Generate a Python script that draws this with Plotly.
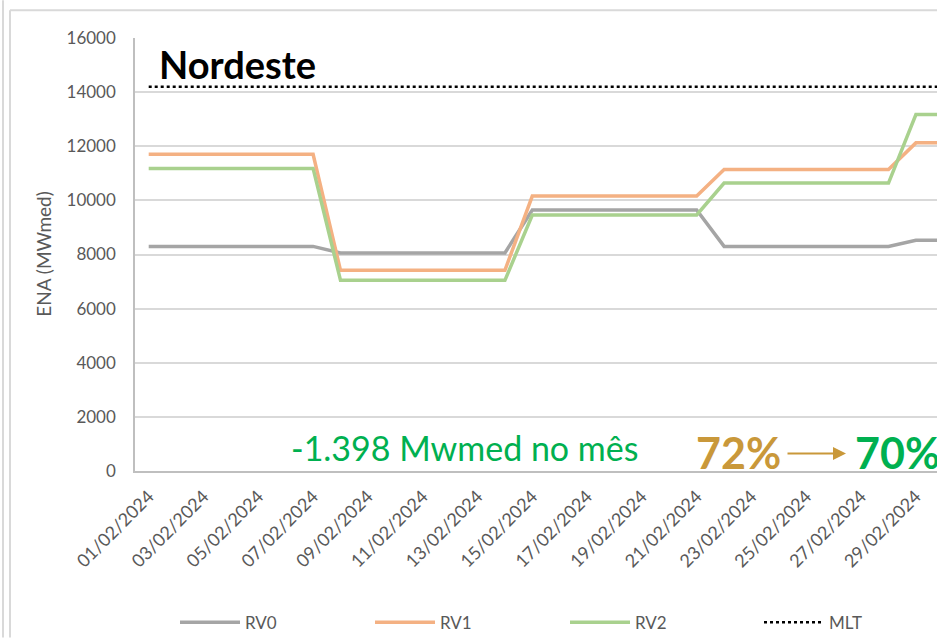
import plotly.graph_objects as go

dates = ["01/02/2024","02/02/2024","03/02/2024","04/02/2024","05/02/2024","06/02/2024","07/02/2024",
         "08/02/2024","09/02/2024","10/02/2024","11/02/2024","12/02/2024","13/02/2024","14/02/2024",
         "15/02/2024","16/02/2024","17/02/2024","18/02/2024","19/02/2024","20/02/2024","21/02/2024",
         "22/02/2024","23/02/2024","24/02/2024","25/02/2024","26/02/2024","27/02/2024","28/02/2024",
         "29/02/2024","01/03/2024"]

rv0 = [8300]*7 + [8060]*7 + [9645]*7 + [8300]*7 + [8525, 8525]
rv1 = [11700]*7 + [7415]*7 + [10160]*7 + [11145]*7 + [12125, 12125]
rv2 = [11180]*7 + [7045]*7 + [9460]*7 + [10640]*7 + [13170, 13170]
mlt = [14200]*30

y_ticks = [0, 2000, 4000, 6000, 8000, 10000, 12000, 14000, 16000]
y_ticktext = [str(v) for v in y_ticks]

FONT = "Lato"
idx = list(range(len(dates)))

L, R, T, B = 135, 937, 38, 473.5
W, H = R - L, B - T
def px(x):
    return (x - L) / W
def py(y):
    return (B - y) / H

fig = go.Figure()
fig.add_trace(go.Scatter(x=idx, y=rv0, name="RV0", mode="lines", legend="legend",
                         line=dict(color="#a5a5a5", width=3.5)))
fig.add_trace(go.Scatter(x=idx, y=rv1, name="RV1", mode="lines", legend="legend2",
                         line=dict(color="#f4b183", width=3.5)))
fig.add_trace(go.Scatter(x=idx, y=rv2, name="RV2", mode="lines", legend="legend3",
                         line=dict(color="#a9d18e", width=3.5)))
fig.add_trace(go.Scatter(x=idx, y=mlt, name="MLT", mode="lines", legend="legend4",
                         line=dict(color="#000000", width=2.5, dash="dot")))

tickvals = idx[0:29:2]
ticktext = [dates[i] for i in tickvals]

def leg(line_x):
    return dict(orientation="h", x=px(line_x - 5), xanchor="left", y=py(626), yanchor="middle",
                itemwidth=60, font=dict(size=17, color="#595959"), bgcolor="rgba(0,0,0,0)")

fig.update_layout(
    width=937, height=641,
    margin=dict(l=L, r=0, t=T, b=641 - B),
    paper_bgcolor="white", plot_bgcolor="white",
    font=dict(family=FONT, color="#595959"),
    showlegend=True,
    legend=leg(180), legend2=leg(375), legend3=leg(570), legend4=leg(764),
    xaxis=dict(range=[-0.5, 28.77], tickmode="array", tickvals=tickvals, ticktext=ticktext,
               tickangle=-45, tickfont=dict(size=18, color="#595959"),
               showgrid=False, showline=True, linecolor="#bfbfbf", linewidth=2,
               zeroline=False, ticks="outside", ticklen=6, tickcolor="rgba(0,0,0,0)",
               automargin=False),
    yaxis=dict(range=[0, 16000], tickmode="array", tickvals=y_ticks, ticktext=y_ticktext,
               tickfont=dict(size=17, color="#595959"),
               showgrid=True, gridcolor="#d9d9d9", gridwidth=1.5,
               showline=True, linecolor="#bfbfbf", linewidth=1.5, zeroline=False,
               ticks="outside", ticklen=14, tickcolor="rgba(0,0,0,0)", automargin=False),
)

fig.add_annotation(xref="paper", yref="paper", x=px(44), y=py(255), xanchor="center",
                   yanchor="middle", text="ENA (MWmed)", textangle=-90, showarrow=False,
                   font=dict(size=19, color="#595959"))
fig.add_annotation(xref="paper", yref="paper", x=px(157), y=py(64),
                   xanchor="left", yanchor="middle",
                   text="<b>Nordeste</b>", showarrow=False, font=dict(size=38, color="#000000"))
fig.add_annotation(xref="paper", yref="paper", x=px(289), y=py(450),
                   xanchor="left", yanchor="middle", text="-1.398 Mwmed no mês",
                   showarrow=False, font=dict(size=34, color="#00b050"))
fig.add_annotation(xref="paper", yref="paper", x=px(694), y=py(455),
                   xanchor="left", yanchor="middle", text="<b>72%</b>",
                   showarrow=False, font=dict(size=43, color="#c9983a"))
fig.add_annotation(xref="paper", yref="paper", x=px(846), y=py(456),
                   ax=-60, ay=0, axref="pixel", ayref="pixel",
                   text="", showarrow=True, arrowhead=2, arrowsize=1.3, arrowwidth=2,
                   arrowcolor="#c9983a")
fig.add_annotation(xref="paper", yref="paper", x=px(853), y=py(455),
                   xanchor="left", yanchor="middle", text="<b>70%</b>",
                   showarrow=False, font=dict(size=43, color="#00b050"))

# outer chart frame
for x0, y0, x1, y1 in [(3, 0, 3, 641), (10, 10, 10, 641), (10, 10, 937, 10)]:
    fig.add_shape(type="line", xref="paper", yref="paper",
                  x0=px(x0), x1=px(x1), y0=py(y0), y1=py(y1),
                  line=dict(color="#d9d9d9", width=2))

fig.write_html("out.html", config={"displayModeBar": False},
               post_script="document.body.style.margin='0';document.body.style.overflow='hidden';")
